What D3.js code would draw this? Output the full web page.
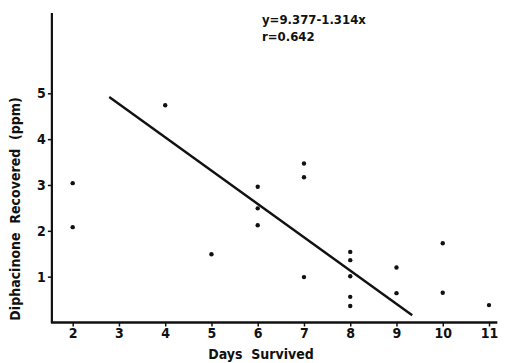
<!DOCTYPE html>
<html>
<head>
<meta charset="utf-8">
<script src="https://cdn.jsdelivr.net/npm/d3@7"></script>
<style>
  body { margin: 0; background: #fff; }
  svg { display: block; }
  text { font-family: "DejaVu Sans Condensed", "Liberation Sans Narrow", sans-serif; font-weight: bold; fill: #111; white-space: pre; }
</style>
</head>
<body>
<svg id="chart" width="505" height="363"></svg>
<script>
// days survived vs diphacinone recovered (ppm)
const days = [2, 2, 4, 5, 6, 6, 6, 7, 7, 7, 8, 8, 8, 8, 8, 9, 9, 10, 10, 11];
const ppm = [3.04, 2.08, 4.74, 1.49, 2.96, 2.49, 2.12, 3.47, 3.17, 0.99, 1.54, 1.36, 1.01, 0.56, 0.36, 1.2, 0.64, 1.73, 0.65, 0.38];

// fitted line as drawn in the figure
const lineX = [2.79, 9.34];
const lineY = [4.92, 0.16];

const xTicks = [2, 3, 4, 5, 6, 7, 8, 9, 10, 11];
const yTicks = [1, 2, 3, 4, 5];
const notes = ['y=9.377-1.314x', 'r=0.642'];

const svg = d3.select('#chart');

const x = d3.scaleLinear().domain([2, 11]).range([72.7, 489]);
const y = d3.scaleLinear().domain([0, 5]).range([322.5, 93.3]);

const xMin = 1.55;
const xMax = 11.18;
const yMax = 6.75;

// axis lines
svg.append('line')
  .attr('x1', x(xMin)).attr('y1', y(yMax))
  .attr('x2', x(xMin)).attr('y2', y(0))
  .attr('stroke', '#111').attr('stroke-width', 2.2);

svg.append('line')
  .attr('x1', x(xMin) - 1).attr('y1', y(0))
  .attr('x2', x(xMax)).attr('y2', y(0))
  .attr('stroke', '#111').attr('stroke-width', 2.4);

const xAxis = svg.append('g')
  .attr('transform', `translate(0,${y(0)})`)
  .call(d3.axisBottom(x).tickValues(xTicks).tickSize(4).tickPadding(2).tickFormat(d3.format('d')));
xAxis.select('.domain').remove();
xAxis.selectAll('line').attr('stroke', '#111').attr('stroke-width', 1.5);
xAxis.selectAll('text').style('font-size', '14px').attr('fill', '#111');

const yAxis = svg.append('g')
  .attr('transform', `translate(${x(xMin)},0)`)
  .call(d3.axisLeft(y).tickValues(yTicks).tickSize(4).tickPadding(2).tickFormat(d3.format('d')));
yAxis.select('.domain').remove();
yAxis.selectAll('line').attr('stroke', '#111').attr('stroke-width', 1.5);
yAxis.selectAll('text').style('font-size', '14px').attr('fill', '#111');

// regression line
svg.append('line')
  .attr('x1', x(lineX[0])).attr('y1', y(lineY[0]))
  .attr('x2', x(lineX[1])).attr('y2', y(lineY[1]))
  .attr('stroke', '#111').attr('stroke-width', 2.4);

// points
svg.append('g')
  .selectAll('circle')
  .data(days.map((d, i) => ({ d, v: ppm[i] })))
  .enter()
  .append('circle')
  .attr('cx', (p) => x(p.d))
  .attr('cy', (p) => y(p.v))
  .attr('r', 2.2)
  .attr('fill', '#111');

// equation text
svg.selectAll('.note')
  .data(notes)
  .enter()
  .append('text')
  .attr('class', 'note')
  .attr('x', 262)
  .attr('y', (d, i) => 24 + i * 17)
  .style('font-size', '13px')
  .text((d) => d);

// axis titles
svg.append('text')
  .attr('x', 261)
  .attr('y', 359)
  .attr('text-anchor', 'middle')
  .style('font-size', '14px')
  .text('Days  Survived');

svg.append('text')
  .attr('transform', 'translate(20,209) rotate(-90)')
  .attr('text-anchor', 'middle')
  .style('font-size', '14px')
  .text('Diphacinone  Recovered  (ppm)');
</script>
</body>
</html>
